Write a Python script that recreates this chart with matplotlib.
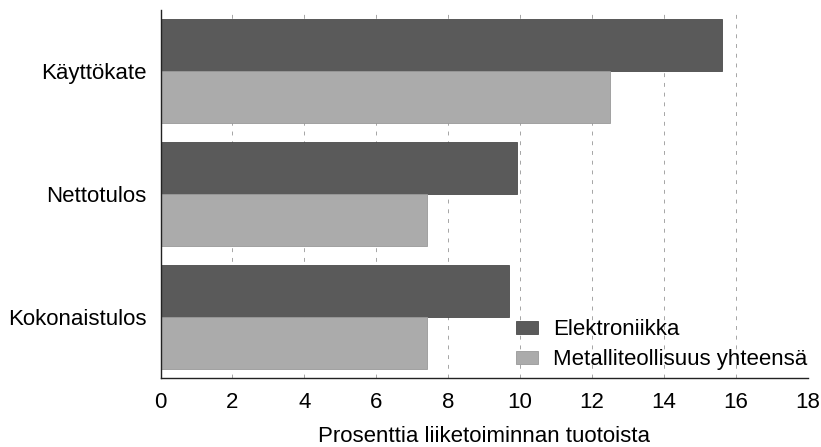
import matplotlib
matplotlib.use("Agg")
import matplotlib.pyplot as plt
import numpy as np

categories = ["Käyttökate", "Nettotulos", "Kokonaistulos"]
elektroniikka = [15.6, 9.9, 9.7]
metalli = [12.5, 7.4, 7.4]
series_labels = ["Elektroniikka", "Metalliteollisuus yhteensä"]
xticks = [0, 2, 4, 6, 8, 10, 12, 14, 16, 18]
xlabel = "Prosenttia liiketoiminnan tuotoista"

plt.rcParams['font.family'] = ['Liberation Sans', 'DejaVu Sans']

fig = plt.figure(figsize=(8.21, 4.47), dpi=100)
ax = fig.add_axes([0.1955, 0.154, 0.7885, 0.824])

y = np.arange(len(categories))
h = 0.422
ax.barh(y - h / 2, elektroniikka, height=h, color='#5a5a5a', edgecolor='#4a4a4a',
        linewidth=0.6, label=series_labels[0], zorder=2)
ax.barh(y + h / 2, metalli, height=h, color='#ababab', edgecolor='#999999',
        linewidth=0.6, label=series_labels[1], zorder=2)

ax.set_xlim(0, 18)
ax.set_ylim(2.5, -0.5)
ax.set_xticks(xticks)
ax.set_xticklabels([str(t) for t in xticks])
ax.set_yticks(y)
ax.set_yticklabels(categories)
ax.tick_params(axis='both', length=0, labelsize=16)
ax.tick_params(axis='x', pad=10)
ax.tick_params(axis='y', pad=10)
ax.set_xlabel(xlabel, fontsize=16, labelpad=9)

ax.xaxis.grid(True, linestyle=(0, (4, 6)), color='#a5a5a5', linewidth=0.7, zorder=0)
ax.set_axisbelow(True)
for s in ['top', 'right']:
    ax.spines[s].set_visible(False)
for s in ['left', 'bottom']:
    ax.spines[s].set_color('#222222')
    ax.spines[s].set_linewidth(1.0)

ax.legend(loc='lower right', bbox_to_anchor=(1.013, -0.003), frameon=False, fontsize=16,
          handlelength=0.95, handleheight=0.55, handletextpad=0.7, labelspacing=0.4,
          borderpad=0.2, borderaxespad=0.2)

fig.savefig("out.png", dpi=100)
